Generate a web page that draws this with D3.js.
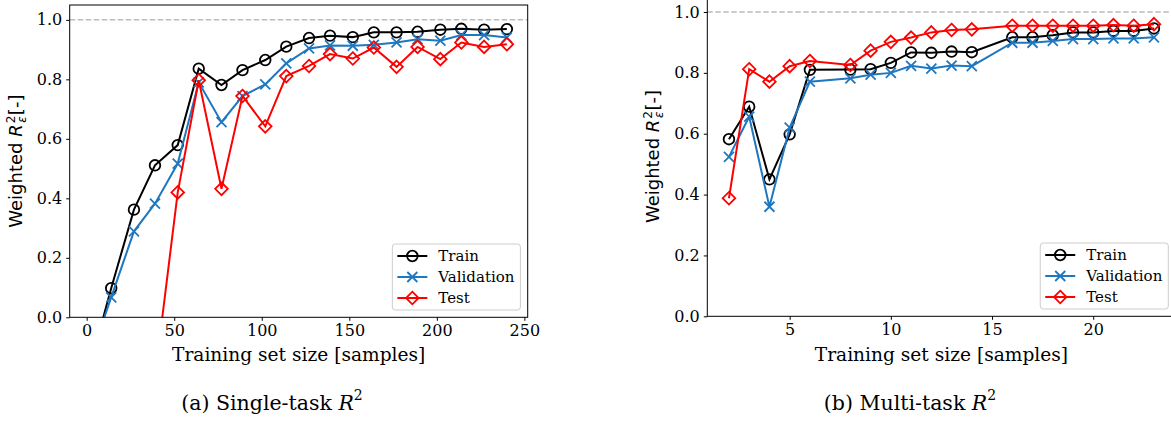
<!DOCTYPE html>
<head>
<meta charset="utf-8">
<title>Weighted R2 learning curves</title>
<style>
body { margin: 0; background: #fff; }
svg { display: block; }
.tick text { font-family: "DejaVu Serif", serif; font-size: 16px; fill: #000; }
.axis path, .axis line { stroke: #000; stroke-width: 1; }
.xlabel { font-family: "DejaVu Serif", serif; font-size: 18.6px; }
.ylabel { font-family: "DejaVu Sans", sans-serif; font-size: 18px; }
.caption { font-family: "DejaVu Serif", serif; font-size: 20.5px; }
.legend text { font-family: "DejaVu Serif", serif; font-size: 15px; }
</style>
</head>
<body>
<script src="https://d3js.org/d3.v7.min.js"></script>
<script>

// ---- data ----
// (a) single-task
var sizesA = [2, 14, 27, 39, 52, 64, 77, 89, 102, 114, 127, 139, 152, 164, 177, 189, 202, 214, 227, 240];
var trainA = [-0.163, 0.098, 0.362, 0.511, 0.579, 0.836, 0.781, 0.831, 0.865, 0.910, 0.939, 0.947, 0.942, 0.958, 0.958, 0.960, 0.967, 0.970, 0.967, 0.969];
var validA = [-0.139, 0.067, 0.289, 0.382, 0.517, 0.790, 0.656, 0.744, 0.783, 0.854, 0.904, 0.914, 0.913, 0.916, 0.924, 0.935, 0.930, 0.949, 0.949, 0.941];
var testA  = [-3.5, -1.2, -0.6, -0.200, 0.420, 0.797, 0.432, 0.744, 0.642, 0.811, 0.845, 0.885, 0.870, 0.907, 0.842, 0.909, 0.868, 0.924, 0.909, 0.918];

// (b) multi-task
var sizesB = [2, 3, 4, 5, 6, 8, 9, 10, 11, 12, 13, 14, 16, 17, 18, 19, 20, 21, 22, 23];
var trainB = [0.582, 0.689, 0.450, 0.598, 0.810, 0.811, 0.812, 0.833, 0.867, 0.866, 0.870, 0.868, 0.917, 0.917, 0.924, 0.933, 0.933, 0.938, 0.938, 0.946];
var validB = [0.524, 0.656, 0.360, 0.620, 0.771, 0.782, 0.794, 0.800, 0.823, 0.814, 0.824, 0.822, 0.899, 0.899, 0.905, 0.911, 0.911, 0.913, 0.913, 0.917];
var testB  = [0.388, 0.812, 0.771, 0.822, 0.839, 0.826, 0.873, 0.902, 0.916, 0.933, 0.941, 0.943, 0.955, 0.955, 0.955, 0.955, 0.955, 0.957, 0.955, 0.960];

var seriesNames = ["Train", "Validation", "Test"];
var yTicks = [0.0, 0.2, 0.4, 0.6, 0.8, 1.0];
var xTicksA = [0, 50, 100, 150, 200, 250];
var xTicksB = [5, 10, 15, 20];

var colors = { Train: "#000000", Validation: "#1f77c0", Test: "#ff0000" };
var markers = { Train: "circle", Validation: "x", Test: "diamond" };

// panel layout (pixel boxes of the two axes)
var panels = [
  { id: "a", left: 69.7, right: 527.7, top: 5, bottom: 317.3,
    xdom: [-9.7, 251.9], xticks: xTicksA, sizes: sizesA,
    data: [trainA, validA, testA], ylabX: 22, caption: "(a) Single-task ", capX: 272 },
  { id: "b", left: 707.3, right: 1175.6, top: -3.2, bottom: 316.3,
    xdom: [0.93, 24.07], xticks: xTicksB, sizes: sizesB,
    data: [trainB, validB, testB], ylabX: 658.5, caption: "(b) Multi-task ", capX: 910 }
];

var svg = d3.select("body").append("svg")
    .attr("width", 1171)
    .attr("height", 421);

svg.append("rect").attr("width", 1171).attr("height", 421).attr("fill", "#fff");

function drawMarker(g, type, color) {
  if (type === "circle") {
    g.append("circle").attr("r", 5.3)
      .attr("fill", "none").attr("stroke", color).attr("stroke-width", 1.8);
  } else if (type === "x") {
    g.append("path").attr("d", "M-5,-5L5,5M-5,5L5,-5")
      .attr("fill", "none").attr("stroke", color).attr("stroke-width", 1.8);
  } else {
    g.append("path").attr("d", "M0,-6.3L6.3,0L0,6.3L-6.3,0Z")
      .attr("fill", "none").attr("stroke", color).attr("stroke-width", 1.8);
  }
}

panels.forEach(function(p) {
  var x = d3.scaleLinear().domain(p.xdom).range([p.left, p.right]);
  var y = d3.scaleLinear().domain([0, 1.05]).range([p.bottom, p.top]);

  var clipId = "clip-" + p.id;
  svg.append("clipPath").attr("id", clipId)
    .append("rect")
      .attr("x", p.left).attr("y", p.top)
      .attr("width", p.right - p.left).attr("height", p.bottom - p.top);

  var g = svg.append("g");

  // reference line at R2 = 1
  g.append("line")
    .attr("x1", p.left).attr("x2", p.right)
    .attr("y1", y(1)).attr("y2", y(1))
    .attr("stroke", "#bdbdbd").attr("stroke-width", 1.5)
    .attr("stroke-dasharray", "5.5,2.5");

  var plot = g.append("g").attr("clip-path", "url(#" + clipId + ")");

  var line = d3.line()
    .x(function(d) { return x(d[0]); })
    .y(function(d) { return y(d[1]); });

  p.data.forEach(function(vals, i) {
    var name = seriesNames[i];
    var pts = p.sizes.map(function(s, j) { return [s, vals[j]]; });
    plot.append("path")
      .datum(pts)
      .attr("d", line)
      .attr("fill", "none")
      .attr("stroke", colors[name])
      .attr("stroke-width", 2);
    pts.forEach(function(d) {
      if (d[1] < -0.05) return;
      var mg = plot.append("g").attr("transform", "translate(" + x(d[0]) + "," + y(d[1]) + ")");
      drawMarker(mg, markers[name], colors[name]);
    });
  });

  // frame
  g.append("rect")
    .attr("x", p.left).attr("y", p.top)
    .attr("width", p.right - p.left).attr("height", p.bottom - p.top)
    .attr("fill", "none").attr("stroke", "#000").attr("stroke-width", 1);

  // axes
  g.append("g")
    .attr("class", "axis")
    .attr("transform", "translate(0," + p.bottom + ")")
    .call(d3.axisBottom(x).tickValues(p.xticks).tickSize(3.5).tickPadding(4).tickFormat(d3.format("d")))
    .call(function(a) { a.select(".domain").remove(); });

  g.append("g")
    .attr("class", "axis")
    .attr("transform", "translate(" + p.left + ",0)")
    .call(d3.axisLeft(y).tickValues(yTicks).tickSize(3.5).tickPadding(4).tickFormat(d3.format(".1f")))
    .call(function(a) { a.select(".domain").remove(); });

  // axis labels
  g.append("text")
    .attr("class", "xlabel")
    .attr("x", (p.left + p.right) / 2)
    .attr("y", 361)
    .attr("text-anchor", "middle")
    .text("Training set size [samples]");

  var yl = g.append("text")
    .attr("class", "ylabel")
    .attr("transform", "translate(" + p.ylabX + "," + (p.top + p.bottom) / 2 + ") rotate(-90)")
    .attr("text-anchor", "middle");
  yl.append("tspan").text("Weighted ");
  yl.append("tspan").attr("font-style", "italic").text("R");
  yl.append("tspan").attr("font-size", "12px").attr("dy", -7).attr("dx", 1).text("2");
  yl.append("tspan").attr("font-size", "12px").attr("font-style", "italic").attr("dy", 11).attr("dx", -7).text("ε");
  yl.append("tspan").attr("dy", -4).attr("dx", 1).text("[-]");

  // legend, lower right
  var lg = g.append("g").attr("class", "legend");
  var box = lg.append("rect")
    .attr("fill", "#fff").attr("fill-opacity", 0.8)
    .attr("stroke", "#cccccc").attr("stroke-width", 1)
    .attr("rx", 3);
  var maxW = 0;
  seriesNames.forEach(function(name, i) {
    var row = lg.append("g").attr("transform", "translate(0," + (12 + i * 21) + ")");
    row.append("line").attr("x1", 5).attr("x2", 35)
      .attr("stroke", colors[name]).attr("stroke-width", 2);
    var mg = row.append("g").attr("transform", "translate(20,0)");
    drawMarker(mg, markers[name], colors[name]);
    var t = row.append("text").attr("x", 46).attr("y", 5).text(name);
    maxW = Math.max(maxW, t.node().getComputedTextLength());
  });
  var bw = 46 + maxW + 6, bh = 66;
  box.attr("width", bw).attr("height", bh);
  var legRight = Math.min(p.right, 1175.6) - 7.3;
  lg.attr("transform", "translate(" + (legRight - bw) + "," + (p.bottom - 7.3 - bh) + ")");

  // caption
  var cap = svg.append("text")
    .attr("class", "caption")
    .attr("x", p.capX)
    .attr("y", 410)
    .attr("text-anchor", "middle");
  cap.append("tspan").text(p.caption);
  cap.append("tspan").attr("font-style", "italic").text("R");
  cap.append("tspan").attr("font-size", "14px").attr("dy", -10).text("2");
});

</script>
</body>
</html>
